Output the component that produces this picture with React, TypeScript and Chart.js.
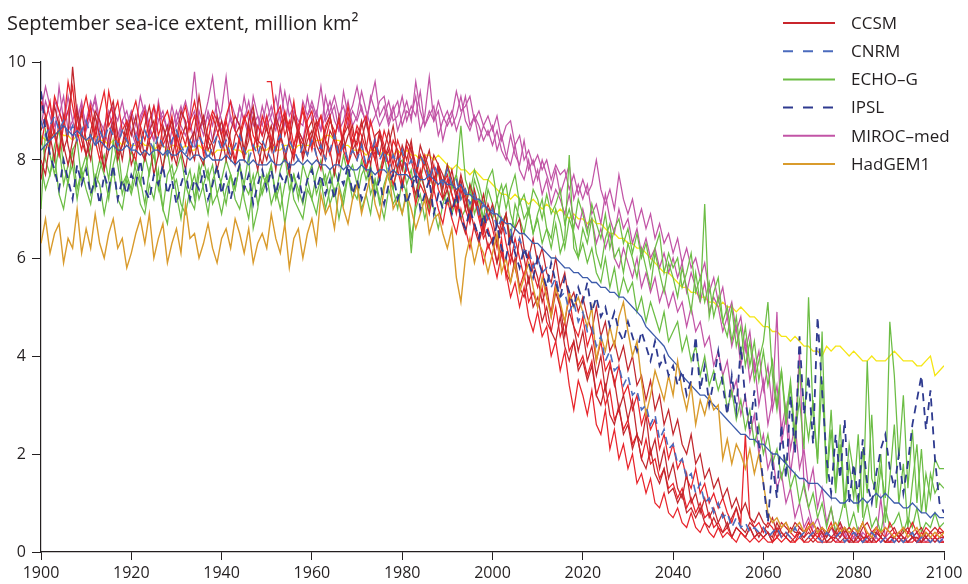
import React, { useEffect, useRef } from "react";
import { Chart, registerables } from "chart.js";

Chart.register(...registerables);

// ---------- DATA ----------
const FIRST_YEAR = 1900;
const LAST_YEAR = 2100;
const X_TICK_STEP = 20;
const Y_TICKS = [0, 2, 4, 6, 8, 10];
const TITLE = "September sea-ice extent, million km²";

// CCSM runs (red)
const ccsm1 = [
  8.6, 8.9, 8.3, 9.1, 8.7, 8.2, 8.5, 9.9, 8.9, 8.4,
  8.1, 8.6, 9.0, 8.8, 8.3, 8.9, 9.2, 8.5, 8.0, 8.6,
  8.9, 8.4, 8.2, 8.7, 9.1, 8.6, 8.3, 7.8, 8.5, 8.8,
  8.4, 9.0, 8.8, 8.1, 8.6, 9.3, 8.7, 8.2, 8.4, 8.9,
  8.5, 8.0, 8.6, 8.9, 8.7, 8.2, 8.8, 9.1, 8.4, 8.3,
  8.7, 8.2, 8.9, 8.6, 8.0, 8.4, 8.9, 8.5, 8.1, 8.6,
  8.8, 8.3, 8.1, 8.6, 8.9, 8.4, 7.9, 8.5, 8.7, 8.2,
  8.4, 8.8, 8.3, 7.9, 8.5, 8.6, 8.0, 8.3, 8.7, 8.1,
  7.8, 8.4, 8.2, 7.7, 8.3, 8.0, 7.6, 8.1, 7.9, 7.4,
  7.9, 7.6, 7.2, 7.7, 7.3, 6.8, 7.4, 7.0, 6.6, 7.1,
  6.8, 6.3, 6.6, 6.9, 6.1, 5.8, 6.4, 6.0, 5.5, 5.9,
  5.6, 5.1, 5.4, 4.8, 5.3, 5.0, 4.4, 4.9, 4.6, 4.1,
  4.5, 3.9, 4.2, 3.6, 4.0, 3.3, 3.8, 3.5, 2.9, 3.2,
  2.7, 3.1, 2.4, 2.2, 2.8, 2.0, 2.3, 1.7, 2.1, 1.5,
  1.8, 1.3, 1.1, 1.6, 1.0, 1.2, 0.8, 1.1, 0.7, 0.9,
  0.6, 0.8, 0.5, 0.7, 0.9, 0.5, 0.4, 0.6, 0.5, 0.3,
  0.5, 0.4, 0.3, 0.6, 0.4, 0.3, 0.5, 0.4, 0.4, 0.3,
  0.4, 0.3, 0.5, 0.4, 0.2, 0.3, 0.4, 0.3, 0.5, 0.3,
  0.2, 0.4, 0.3, 0.3, 0.2, 0.4, 0.3, 0.2, 0.3, 0.3,
  0.4, 0.3, 0.2, 0.3, 0.3, 0.2, 0.4, 0.3, 0.2, 0.3,
  0.3,
];
const ccsm2 = [
  8.3, 8.8, 9.2, 8.5, 8.1, 8.7, 9.0, 9.5, 8.6, 8.2,
  8.7, 9.1, 8.4, 8.0, 8.5, 9.4, 8.9, 8.3, 8.6, 8.8,
  8.2, 8.0, 8.7, 9.0, 8.4, 8.6, 9.1, 8.3, 8.5, 8.9,
  8.1, 8.6, 8.3, 8.8, 9.2, 8.7, 8.1, 8.4, 8.9, 8.6,
  8.3, 8.8, 8.4, 8.0, 8.5, 8.9, 8.6, 8.2, 8.7, 8.5,
  8.9, 8.4, 8.2, 8.7, 9.0, 8.6, 8.1, 8.5, 9.1, 8.7,
  8.3, 8.6, 8.9, 8.4, 8.1, 8.5, 8.8, 8.2, 7.9, 8.4,
  8.6, 8.1, 7.8, 8.3, 8.0, 7.6, 8.2, 7.9, 7.5, 7.8,
  7.4, 7.9, 7.6, 7.1, 7.5, 7.3, 6.9, 7.4, 7.0, 6.7,
  7.2, 6.8, 6.5, 7.0, 6.6, 6.2, 6.7, 6.4, 5.9, 6.3,
  6.0, 5.6, 6.1, 5.7, 5.2, 5.5, 5.0, 5.4, 4.8, 4.5,
  4.9, 4.4, 4.6, 4.0, 4.3, 3.7, 4.1, 3.4, 2.9, 3.5,
  3.2, 2.8, 3.3, 2.6, 2.4, 2.9, 2.1, 2.5, 1.9, 2.2,
  1.7, 2.0, 1.4, 1.6, 1.2, 1.5, 1.0, 0.9, 1.2, 0.8,
  0.7, 0.9, 0.6, 0.5, 0.8, 0.5, 0.4, 0.6, 0.4, 0.3,
  0.5, 0.3, 0.4, 0.3, 0.2, 0.4, 0.3, 0.2, 0.3, 0.2,
  0.3, 0.2, 0.2, 0.3, 0.2, 0.3, 0.2, 0.2, 0.3, 0.2,
  0.2, 0.3, 0.2, 0.2, 0.2, 0.3, 0.2, 0.2, 0.2, 0.3,
  0.2, 0.2, 0.3, 0.2, 0.2, 0.2, 0.3, 0.2, 0.2, 0.2,
  0.3, 0.2, 0.2, 0.2, 0.3, 0.2, 0.2, 0.2, 0.3, 0.2,
  0.2,
];
const ccsm3 = [
  7.6, 8.2, 8.5, 8.0, 8.8, 8.3, 7.9, 8.4, 9.0, 8.6,
  8.1, 8.4, 8.9, 8.5, 7.8, 8.2, 8.7, 8.0, 8.3, 8.8,
  8.5, 8.9, 8.2, 8.0, 8.6, 8.8, 8.1, 8.4, 8.7, 8.2,
  7.9, 8.4, 8.7, 8.3, 8.0, 8.6, 8.9, 8.4, 8.1, 8.5,
  8.8, 8.3, 8.0, 8.5, 8.7, 8.1, 8.4, 8.9, 8.2, 7.9,
  8.4, 8.7, 8.2, 8.5, 8.9, 8.3, 8.0, 8.6, 8.4, 8.1,
  8.5, 8.8, 8.3, 8.0, 8.6, 8.4, 8.9, 8.2, 8.5, 8.7,
  8.1, 8.4, 8.8, 8.3, 8.0, 8.5, 8.2, 8.6, 8.1, 7.8,
  8.3, 8.0, 8.4, 7.7, 8.1, 7.9, 8.2, 7.6, 7.9, 7.7,
  7.4, 7.8, 7.3, 7.6, 7.0, 7.5, 7.2, 6.9, 7.3, 6.8,
  7.1, 6.7, 6.5, 6.9, 6.3, 6.6, 6.8, 6.2, 6.0, 6.4,
  5.9, 6.2, 5.7, 5.5, 6.0, 5.4, 5.7, 5.1, 5.3, 4.9,
  5.2, 4.8, 4.5, 5.0, 4.4, 4.7, 4.1, 4.3, 3.9, 4.2,
  3.7, 4.0, 3.4, 3.6, 3.1, 3.5, 2.9, 3.2, 2.6, 2.9,
  2.4, 2.7, 2.2, 2.0, 2.4, 1.8, 2.0, 1.5, 1.7, 1.3,
  1.5, 1.1, 1.3, 0.9, 1.1, 0.8, 1.0, 0.7, 0.6, 0.8,
  0.6, 0.5, 0.7, 0.4, 0.6, 0.5, 0.4, 0.6, 0.5, 0.4,
  0.5, 0.6, 0.4, 0.5, 0.3, 0.5, 0.4, 0.6, 0.4, 0.5,
  0.4, 0.3, 0.5, 0.6, 0.4, 0.4, 0.3, 0.5, 0.4, 0.5,
  0.3, 0.4, 0.5, 0.3, 0.4, 0.5, 0.3, 0.4, 0.5, 0.4,
  0.4,
];
const ccsm4 = [
  9.2, 8.9, 8.5, 9.3, 9.0, 8.7, 9.6, 9.1, 8.6, 8.9,
  9.3, 8.8, 8.5, 9.0, 9.4, 8.7, 8.9, 9.2, 8.6, 8.4,
  8.9, 9.2, 8.7, 8.4, 8.8, 9.1, 8.5, 8.8, 9.0, 8.6,
  8.3, 8.8, 9.1, 8.6, 8.9, 8.5, 8.2, 8.7, 9.0, 8.8,
  8.5, 8.9, 9.2, 8.6, 8.4, 8.8, 9.0, 8.5, 8.3, 8.9,
  8.6, 8.4, 8.9, 9.1, 8.5, 8.8, 8.3, 8.7, 9.0, 8.6,
  8.2, 8.7, 8.9, 8.4, 8.8, 8.6, 8.1, 8.5, 8.9, 8.3,
  8.7, 8.5, 8.2, 8.8, 8.4, 8.1, 8.6, 8.3, 7.9, 8.4,
  8.1, 7.8, 8.3, 7.9, 7.6, 8.1, 7.8, 7.4, 7.9, 7.5,
  7.7, 7.3, 7.0, 7.5, 7.2, 6.8, 7.3, 6.9, 6.5, 6.9,
  6.6, 6.2, 6.8, 6.3, 5.9, 6.4, 6.0, 5.6, 6.1, 5.7,
  5.4, 5.8, 5.2, 4.9, 5.5, 5.0, 4.7, 5.2, 4.6, 4.4,
  4.8, 4.2, 4.5, 3.9, 4.3, 3.7, 3.9, 3.4, 3.8, 3.2,
  3.4, 2.9, 3.2, 2.6, 2.9, 2.5, 2.7, 2.1, 2.4, 1.9,
  2.2, 1.7, 1.9, 1.5, 1.3, 1.7, 1.2, 1.4, 1.0, 1.2,
  0.9, 1.1, 0.8, 0.6, 0.9, 0.6, 2.4, 0.7, 0.5, 0.6,
  0.4, 0.6, 0.5, 0.3, 0.5, 0.6, 0.4, 0.3, 0.5, 0.4,
  0.6, 0.4, 0.3, 0.5, 0.4, 0.6, 0.3, 0.4, 0.5, 0.3,
  0.5, 0.4, 0.6, 0.3, 0.4, 0.5, 0.4, 0.3, 0.6, 0.4,
  0.3, 0.5, 0.4, 0.6, 0.4, 0.3, 0.5, 0.4, 0.3, 0.5,
  0.4,
];
const ccsm5 = [
  8.0, 7.7, 8.4, 8.6, 8.1, 8.9, 8.3, 7.9, 8.5, 9.0,
  8.4, 8.0, 8.7, 8.2, 7.8, 8.5, 8.8, 8.1, 8.3, 8.6,
  7.9, 8.2, 8.6, 8.0, 8.4, 7.7, 8.1, 8.7, 8.4, 8.0,
  8.5, 8.2, 7.8, 8.4, 8.6, 8.1, 7.9, 8.5, 8.3, 7.8,
  8.2, 8.6, 8.3, 7.9, 8.4, 8.0, 8.7, 8.2, 7.8, 8.3,
  8.0, 8.4, 7.8, 8.5, 8.2, 7.7, 8.3, 8.6, 8.0, 8.4,
  8.6, 8.1, 7.8, 8.4, 8.2, 7.7, 8.3, 8.5, 7.9, 8.2,
  8.0, 8.4, 7.8, 8.1, 8.3, 7.6, 8.0, 8.2, 7.7, 8.1,
  7.5, 7.9, 7.6, 7.3, 7.8, 7.4, 7.1, 7.6, 7.8, 7.2,
  7.4, 7.0, 7.3, 6.8, 6.5, 7.0, 6.6, 6.3, 6.7, 6.2,
  6.4, 5.9, 6.2, 5.7, 5.5, 6.0, 5.4, 5.2, 5.6, 5.0,
  5.2, 4.7, 5.0, 4.5, 4.3, 4.8, 4.2, 3.9, 4.3, 3.7,
  3.9, 3.5, 3.8, 3.2, 3.0, 3.4, 2.8, 2.6, 3.0, 2.4,
  2.6, 2.1, 2.4, 1.9, 1.7, 2.1, 1.6, 1.4, 1.7, 1.2,
  1.3, 1.0, 1.2, 0.8, 0.9, 0.7, 0.9, 0.6, 0.5, 0.7,
  0.5, 0.4, 0.6, 0.3, 0.5, 0.4, 0.3, 0.5, 0.3, 0.4,
  0.3, 0.4, 0.2, 0.3, 0.4, 0.3, 0.2, 0.3, 0.4, 0.2,
  0.3, 0.2, 0.3, 0.4, 0.2, 0.2, 0.3, 0.2, 0.3, 0.2,
  0.2, 0.3, 0.2, 0.2, 0.3, 0.2, 0.3, 0.2, 0.2, 0.3,
  0.2, 0.3, 0.2, 0.3, 0.2, 0.2, 0.3, 0.2, 0.3, 0.2,
  0.2,
];
const CCSM6_START = 1950;
const ccsm6 = [
  9.6, 9.6, 8.8, 8.4, 8.9, 8.6, 9.2, 8.5, 8.3, 8.8,
  9.0, 8.5, 8.2, 8.7, 8.9, 8.4, 8.1, 8.6, 9.1, 8.5,
  8.3, 8.7, 8.9, 8.4, 8.1, 8.6, 8.3, 7.9, 8.4, 8.2,
  7.8, 8.3, 8.0, 7.6, 8.1, 7.8, 7.5, 7.9, 7.4, 7.2,
  7.6, 7.3, 6.9, 7.4, 7.0, 6.7, 7.2, 6.8, 6.4, 6.6,
  6.3, 5.9, 6.4, 5.6, 6.1, 5.8, 5.4, 5.7, 5.1, 5.3,
  5.0, 5.4, 4.7, 4.5, 5.0, 4.4, 4.7, 4.1, 4.3, 3.8,
  4.0, 3.6, 3.9, 3.2, 3.5, 3.0, 3.3, 2.7, 2.9, 2.5,
  2.7, 2.2, 2.4, 1.9, 2.3, 1.8, 1.9, 1.5, 1.7, 1.3,
  1.4, 1.1, 1.3, 0.9, 1.1, 0.8, 1.0, 0.7, 0.8, 0.5,
  0.6, 0.4, 0.5, 0.3, 0.5, 0.4, 0.3, 0.5, 0.3, 0.4,
  0.3, 0.4, 0.2, 0.5, 0.3, 0.4, 0.3, 0.2, 0.4, 0.3,
  0.5, 0.3, 0.4, 0.2, 0.4, 0.3, 0.3, 0.5, 0.3, 0.2,
  0.4, 0.3, 0.2, 0.4, 0.3, 0.5, 0.3, 0.2, 0.3, 0.4,
  0.3, 0.2, 0.4, 0.3, 0.2, 0.4, 0.3, 0.2, 0.3, 0.4,
  0.3,
];

// ECHO-G runs (green)
const echo1 = [
  7.0, 8.6, 8.1, 7.7, 8.3, 7.5, 7.9, 8.2, 7.4, 7.8,
  8.1, 7.3, 7.6, 8.0, 7.7, 7.2, 7.9, 8.3, 7.5, 7.7,
  7.4, 8.0, 7.6, 7.1, 7.8, 8.1, 7.5, 7.0, 7.7, 7.9,
  7.3, 6.8, 7.5, 7.8, 7.2, 7.9, 7.4, 6.9, 7.6, 7.8,
  7.5, 7.1, 7.7, 7.4, 7.9, 7.2, 6.8, 7.5, 7.8, 7.3,
  7.6, 7.9, 7.2, 7.5, 6.7, 7.3, 7.7, 7.4, 7.1, 7.6,
  7.9, 7.3, 7.6, 7.0, 7.4, 7.8, 7.5, 7.1, 7.7, 7.4,
  7.2, 7.7, 7.9, 7.3, 7.6, 7.1, 7.5, 7.8, 7.4, 7.0,
  7.6, 7.3, 6.1, 7.2, 7.7, 7.4, 7.0, 7.6, 7.8, 7.3,
  7.1, 7.5, 7.7, 7.2, 7.4, 6.9, 7.6, 7.3, 6.8, 7.4,
  7.1, 6.7, 7.3, 7.5, 6.9, 6.6, 7.2, 6.8, 7.0, 6.5,
  6.9, 7.2, 6.6, 6.4, 7.0, 6.7, 6.2, 6.8, 6.5, 6.0,
  6.6, 6.3, 6.8, 6.1, 5.8, 6.4, 6.7, 6.0, 6.2, 5.7,
  6.3, 6.0, 5.6, 6.2, 5.8, 5.4, 6.1, 5.7, 5.3, 5.9,
  5.6, 5.2, 5.8, 5.4, 4.9, 5.7, 5.1, 7.1, 4.8, 5.3,
  5.6, 4.7, 4.4, 5.0, 4.2, 4.6, 3.8, 4.3, 3.5, 3.9,
  4.3, 5.1, 3.6, 2.9, 3.7, 2.6, 3.4, 2.1, 3.8, 3.0,
  2.3, 3.1, 1.8, 4.5, 1.4, 2.5, 1.2, 2.2, 0.9, 1.8,
  1.1, 2.4, 0.7, 3.9, 1.5, 1.2, 2.0, 0.6, 1.5, 2.6,
  1.0, 1.8, 0.5, 1.4, 2.2, 0.8, 1.6, 1.1, 1.9, 1.7,
  1.7,
];
const echo2 = [
  8.5, 8.0, 7.7, 8.3, 8.6, 7.9, 7.5, 8.2, 8.4, 7.6,
  7.9, 8.3, 7.4, 7.8, 8.1, 7.6, 8.4, 7.9, 7.3, 7.7,
  8.2, 7.8, 7.5, 8.1, 7.7, 8.3, 7.4, 7.9, 8.2, 7.6,
  7.8, 8.1, 7.5, 7.2, 7.0, 7.7, 8.0, 7.6, 7.9, 7.3,
  7.6, 8.0, 7.7, 7.4, 7.9, 7.5, 8.1, 6.6, 7.0, 7.7,
  7.5, 7.9, 7.3, 7.8, 8.1, 7.4, 7.7, 7.2, 7.9, 7.6,
  7.2, 7.7, 8.0, 7.5, 7.8, 7.3, 7.6, 8.1, 7.7, 7.9,
  7.5, 8.0, 7.6, 7.9, 7.3, 7.8, 8.1, 7.6, 7.4, 7.9,
  8.0, 7.5, 7.8, 7.2, 7.6, 8.0, 7.7, 7.4, 7.8, 7.5,
  7.9, 7.4, 7.7, 8.7, 7.6, 7.3, 7.8, 7.5, 7.1, 7.6,
  7.8, 7.2, 7.5, 7.0, 7.4, 7.7, 7.1, 7.3, 6.9, 7.4,
  7.2, 6.8, 7.3, 6.9, 7.1, 7.4, 6.7, 7.0, 6.6, 7.2,
  6.9, 6.5, 7.1, 6.7, 6.4, 6.9, 6.2, 6.6, 6.8, 6.3,
  6.6, 6.1, 6.5, 6.0, 6.3, 5.8, 6.2, 6.5, 5.7, 6.1,
  5.8, 6.0, 5.4, 5.7, 6.1, 5.3, 5.6, 5.1, 5.5, 4.8,
  5.2, 4.7, 5.0, 4.3, 4.8, 4.0, 4.6, 3.8, 4.3, 3.5,
  4.1, 3.4, 3.9, 3.0, 3.7, 2.8, 3.5, 2.4, 3.1, 2.1,
  5.2, 2.8, 1.9, 3.5, 1.5, 2.9, 1.3, 2.6, 1.0, 2.2,
  1.6, 0.8, 2.1, 1.2, 2.8, 0.9, 1.7, 1.1, 4.7, 3.6,
  1.9, 3.2, 1.3, 2.5, 1.0, 2.1, 0.8, 1.6, 1.2, 1.4,
  1.3,
];
const echo3 = [
  7.9, 7.4, 7.7, 8.1, 7.3, 7.0, 7.6, 7.9, 7.2, 7.8,
  7.4, 7.1, 7.7, 7.5, 6.9, 7.4, 7.8, 7.2, 7.0, 7.6,
  7.3, 7.7, 7.1, 6.9, 7.5, 7.2, 7.8, 7.0, 6.7, 7.4,
  7.6, 7.1, 6.9, 7.4, 7.7, 7.2, 7.5, 7.8, 7.1, 7.3,
  6.9, 7.4, 7.7, 7.2, 7.0, 7.5, 7.3, 7.7, 7.1, 7.4,
  7.7, 7.1, 7.4, 7.0, 7.5, 7.8, 7.2, 7.0, 6.8, 7.4,
  7.2, 6.9, 7.5, 7.7, 7.1, 7.4, 6.8, 7.3, 7.7, 7.2,
  7.5, 7.0, 7.3, 6.9, 7.6, 7.2, 6.8, 7.4, 7.1, 7.3,
  6.9, 7.4, 6.4, 7.0, 7.3, 6.8, 7.2, 7.0, 6.6, 7.1,
  7.4, 6.9, 7.2, 6.8, 7.0, 7.5, 6.9, 7.2, 6.7, 7.0,
  6.8, 7.2, 6.7, 6.9, 6.4, 7.1, 6.8, 6.5, 7.0, 6.5,
  6.8, 6.3, 6.6, 6.2, 6.7, 6.1, 6.4, 8.1, 6.2, 6.0,
  6.3, 5.9, 6.2, 5.7, 5.5, 6.0, 5.4, 5.8, 5.2, 5.6,
  5.3, 5.5, 4.9, 5.2, 4.7, 5.1, 4.8, 4.5, 4.9, 4.3,
  4.5, 4.7, 4.1, 4.4, 3.9, 4.2, 3.6, 4.0, 3.4, 3.7,
  3.3, 3.6, 2.9, 3.3, 2.7, 3.1, 2.5, 2.9, 2.2, 2.6,
  2.0, 2.4, 1.8, 2.1, 1.5, 1.9, 1.3, 1.6, 1.0, 1.4,
  0.9, 1.2, 0.7, 1.0, 0.5, 0.9, 0.4, 0.7, 1.1, 0.5,
  0.8, 0.4, 0.6, 1.0, 0.5, 0.7, 0.4, 0.9, 0.5, 0.6,
  0.8, 0.4, 0.7, 0.5, 0.9, 0.4, 0.6, 0.5, 0.8, 0.5,
  0.6,
];

// MIROC-med runs (magenta)
const miroc1 = [
  9.4, 8.9, 8.6, 9.2, 9.0, 8.7, 9.3, 8.8, 8.5, 9.1,
  8.7, 9.0, 9.2, 8.6, 8.4, 8.9, 9.1, 8.5, 8.8, 9.0,
  8.6, 8.3, 8.9, 9.1, 8.7, 8.4, 8.8, 9.0, 8.6, 8.3,
  8.8, 9.1, 8.7, 8.9, 9.8, 8.8, 8.5, 9.0, 8.7, 9.2,
  8.8, 8.5, 8.9, 8.6, 9.1, 8.8, 8.5, 9.3, 8.9, 8.7,
  9.2, 8.8, 8.6, 9.0, 8.7, 9.3, 8.9, 8.6, 8.4, 8.9,
  9.1, 8.8, 8.6, 9.3, 8.9, 9.1, 8.6, 8.8, 9.2, 8.7,
  8.9, 9.4, 9.0, 8.7, 8.9, 9.2, 9.3, 8.8, 9.1, 8.6,
  8.9, 9.2, 8.8, 9.6, 9.0, 8.7, 8.9, 9.1, 8.5, 8.8,
  9.0, 8.7, 8.9, 9.3, 8.8, 8.6, 8.9, 8.7, 8.4, 8.6,
  8.3, 8.6, 8.2, 8.0, 8.5, 8.1, 7.9, 8.4, 7.8, 8.0,
  7.6, 8.0, 7.7, 7.4, 7.8, 7.3, 7.6, 7.9, 7.2, 7.5,
  7.2, 7.5, 6.9, 7.1, 6.7, 7.3, 6.8, 6.5, 7.0, 6.6,
  6.8, 6.3, 6.6, 6.1, 6.4, 6.0, 6.2, 5.8, 6.1, 5.7,
  6.0, 5.6, 5.9, 5.3, 5.7, 5.4, 5.1, 5.5, 4.9, 5.2,
  5.0, 4.5, 4.8, 4.2, 4.6, 3.8, 4.3, 3.5, 3.9, 3.0,
  3.5, 2.6, 3.1, 4.9, 2.2, 2.8, 1.6, 2.3, 4.1, 1.3,
  0.9, 0.5, 0.7, 0.4, 0.3, 0.5, 0.3, 0.4, 0.3, 0.2,
  0.3, 0.4, 0.2, 0.3, 0.4, 0.3, 1.1, 0.3, 0.2, 0.3,
  0.4, 0.3, 0.2, 0.3, 0.4, 0.2, 0.3, 0.4, 0.3, 0.2,
  0.3,
];
const miroc2 = [
  9.0, 9.5, 9.1, 8.7, 8.9, 9.3, 8.6, 8.8, 9.1, 8.5,
  8.8, 9.2, 8.9, 8.4, 8.7, 9.0, 8.6, 8.3, 8.8, 8.6,
  8.9, 8.5, 8.8, 9.1, 8.6, 8.4, 9.2, 8.7, 8.2, 8.6,
  9.0, 8.7, 8.5, 8.8, 8.3, 9.0, 8.7, 8.9, 8.4, 8.7,
  9.0, 9.7, 8.8, 8.6, 9.1, 8.8, 9.2, 8.7, 8.9, 8.5,
  8.8, 9.1, 8.7, 9.5, 8.9, 8.6, 9.0, 8.8, 8.7, 9.3,
  8.8, 9.0, 8.6, 8.9, 9.2, 8.8, 8.6, 9.4, 8.9, 9.1,
  9.5, 9.0, 8.8, 9.2, 9.6, 8.9, 9.1, 8.7, 9.0, 9.2,
  8.7, 9.0, 8.9, 9.3, 8.6, 8.9, 9.7, 8.8, 9.0, 8.4,
  8.8, 9.0, 8.6, 8.9, 9.3, 8.7, 8.9, 8.4, 8.7, 8.5,
  8.7, 8.2, 8.5, 8.1, 7.9, 8.3, 7.8, 7.6, 8.0, 7.5,
  7.8, 7.3, 7.6, 7.1, 7.4, 7.2, 6.9, 7.3, 6.8, 6.6,
  7.0, 6.6, 6.8, 6.3, 6.6, 6.2, 6.5, 6.0, 5.8, 6.2,
  5.9, 5.6, 6.0, 5.4, 5.7, 5.3, 5.6, 5.1, 5.4, 5.0,
  5.3, 4.9, 5.1, 4.6, 5.0, 4.5, 4.7, 4.2, 4.4, 3.8,
  4.1, 3.6, 3.9, 3.2, 3.5, 2.8, 3.2, 2.4, 2.8, 2.0,
  2.4, 1.7, 2.0, 1.3, 1.6, 1.0, 1.3, 0.7, 1.0, 0.5,
  0.7, 0.4, 0.5, 0.3, 0.4, 0.3, 0.2, 0.3, 0.4, 0.2,
  0.3, 0.2, 0.4, 0.3, 0.2, 0.3, 0.2, 0.3, 0.2, 0.3,
  0.2, 0.3, 0.2, 0.3, 0.2, 0.2, 0.3, 0.2, 0.3, 0.2,
  0.2,
];
const miroc3 = [
  8.7, 9.2, 8.9, 8.5, 9.5, 8.8, 9.0, 8.4, 8.8, 9.2,
  8.6, 8.9, 9.3, 8.8, 8.6, 8.3, 9.0, 8.8, 9.2, 8.7,
  9.0, 8.7, 9.3, 8.9, 8.5, 9.1, 8.8, 8.9, 8.6, 9.1,
  8.7, 8.9, 9.2, 8.8, 9.0, 8.6, 8.8, 9.2, 9.7, 8.9,
  8.6, 8.8, 9.2, 8.9, 8.7, 9.3, 8.8, 9.0, 8.6, 9.1,
  8.7, 8.9, 9.3, 8.8, 9.4, 8.9, 9.1, 8.6, 9.2, 8.9,
  9.2, 8.9, 9.5, 8.8, 9.0, 9.3, 8.9, 9.1, 8.7, 9.0,
  8.8, 9.1, 8.7, 9.3, 9.0, 8.7, 8.9, 9.2, 8.8, 8.9,
  9.3, 8.8, 9.1, 8.9, 9.4, 8.7, 9.0, 8.8, 9.2, 8.9,
  8.7, 8.9, 9.4, 9.0, 9.1, 9.3, 8.8, 9.0, 8.7, 8.9,
  8.6, 8.9, 8.4, 8.7, 8.8, 8.3, 8.5, 8.0, 8.2, 7.9,
  8.1, 7.8, 8.0, 7.6, 7.9, 7.7, 7.8, 7.4, 7.7, 7.3,
  7.6, 7.3, 7.5, 8.0, 7.4, 7.1, 7.4, 7.0, 7.7, 7.2,
  6.9, 7.2, 6.7, 7.0, 6.6, 6.9, 6.4, 6.7, 6.3, 6.5,
  6.1, 6.4, 5.9, 6.2, 5.8, 6.0, 5.6, 5.9, 5.3, 5.6,
  5.1, 5.4, 4.8, 5.1, 4.5, 4.8, 4.1, 4.5, 3.7, 4.1,
  3.3, 3.8, 2.9, 3.4, 2.5, 3.0, 2.1, 2.6, 1.7, 2.1,
  1.3, 1.7, 0.9, 1.3, 0.6, 0.9, 0.4, 0.6, 0.3, 0.4,
  0.3, 0.5, 0.3, 0.2, 0.4, 0.3, 0.2, 0.3, 0.4, 0.2,
  0.3, 0.2, 0.3, 0.4, 0.2, 0.3, 0.2, 0.3, 0.2, 0.3,
  0.2,
];

// HadGEM1 (orange)
const hadgem1 = [
  6.3, 6.8, 6.1, 6.5, 6.7, 5.9, 6.4, 6.2, 7.0, 6.1,
  6.6, 6.2, 6.9, 6.3, 6.0, 6.5, 6.8, 6.2, 6.4, 5.8,
  6.1, 6.5, 6.8, 6.3, 6.9, 6.0, 6.4, 6.7, 5.9, 6.3,
  6.6, 6.1, 7.1, 6.4, 6.5, 6.0, 6.3, 6.7, 6.2, 5.9,
  6.4, 6.6, 6.2, 6.8, 6.5, 6.1, 6.6, 5.9, 6.3, 6.5,
  6.2, 6.9, 6.4, 6.1, 6.7, 5.8, 6.4, 6.6, 6.0, 6.5,
  6.8, 6.3, 7.3, 6.9, 7.1, 6.6, 7.4, 7.0, 6.7, 7.2,
  7.5, 6.9, 7.3, 7.7, 7.1, 6.8, 7.4, 7.8, 7.0, 7.2,
  6.9, 7.3, 7.0, 6.6, 6.9, 7.2, 6.5, 6.8, 6.9, 6.5,
  6.2, 6.6, 5.6, 5.1, 6.0, 6.4, 5.9, 6.3, 6.1, 5.7,
  6.1, 6.5, 5.7, 6.0, 5.5, 5.9, 5.3, 5.6, 5.9, 5.4,
  5.0, 5.6, 5.2, 4.8, 5.4, 5.1, 4.7, 5.3, 5.0, 5.2,
  4.9, 4.6, 5.0, 3.9, 4.4, 4.1, 4.6, 4.2, 4.8, 5.1,
  4.5, 4.0, 4.3, 3.5, 2.8, 3.2, 3.7, 3.4, 3.1, 3.6,
  3.2, 3.9, 3.3, 2.9, 3.4, 2.6, 3.1, 2.8, 3.2, 2.9,
  3.0, 1.9, 2.3, 1.8, 2.2, 2.0, 1.7, 2.1, 1.6, 2.0,
  1.4, 0.8, 0.6, 0.7, 0.5, 0.6, 0.4, 0.5, 0.6, 0.4,
  0.5, 0.6, 0.4, 0.5, 0.4, 0.5, 0.6, 0.4, 0.5, 0.4,
  0.5, 0.4, 0.6, 0.4, 0.3, 0.5, 0.4, 0.5, 0.4, 0.3,
  0.4, 0.5, 0.3, 0.4, 0.5, 0.3, 0.4, 0.3, 0.4, 0.3,
  0.4,
];

// IPSL (navy dashed)
const ipsl = [
  9.4, 8.6, 8.1, 7.8, 7.4, 8.0, 7.6, 7.2, 7.9, 7.5,
  7.8, 7.3, 7.6, 7.1, 7.7, 7.4, 7.9, 7.2, 7.6, 7.3,
  7.7, 7.5, 8.0, 7.4, 7.2, 7.7, 7.5, 7.9, 7.3, 7.6,
  7.1, 7.5, 7.8, 7.2, 7.6, 7.4, 7.8, 7.2, 7.5, 7.9,
  7.3, 7.7, 7.2, 7.6, 7.9, 7.4, 7.7, 7.1, 7.5, 7.8,
  7.4, 7.8, 7.3, 7.7, 7.5, 7.9, 7.4, 7.7, 7.2, 7.6,
  7.8, 7.4, 7.7, 7.3, 7.6, 7.2, 7.7, 7.5, 7.9, 7.3,
  7.6, 7.2, 7.5, 7.8, 7.3, 7.6, 7.1, 7.5, 7.7, 7.2,
  7.5, 7.1, 7.4, 7.7, 7.0, 7.3, 7.6, 6.9, 7.3, 7.0,
  7.2, 6.9, 7.3, 6.8, 6.6, 7.0, 6.7, 6.4, 6.9, 6.5,
  6.3, 6.7, 6.2, 6.0, 6.5, 6.1, 5.8, 6.2, 5.9, 5.6,
  6.0, 5.7, 5.4, 5.9, 5.5, 5.2, 5.6, 5.3, 5.0, 5.4,
  5.1, 5.5, 4.9, 5.2, 4.8, 5.0, 4.6, 4.9, 4.5, 4.3,
  4.7, 4.4, 4.1, 4.5, 4.2, 3.9, 4.3, 3.8, 4.0, 3.6,
  3.8, 3.4, 3.7, 3.2, 3.5, 4.4, 3.3, 3.8, 3.0, 3.5,
  4.1, 3.4, 2.8, 3.6, 2.9, 4.2, 3.1, 2.5, 3.3, 2.2,
  1.4, 0.6, 1.8, 1.1, 2.6, 1.5, 3.2, 2.0, 4.4, 2.8,
  3.6, 2.2, 4.8, 3.3, 1.9, 1.2, 2.4, 1.5, 2.7, 1.0,
  1.8, 1.1, 2.3, 1.4, 1.0, 1.6, 2.1, 2.4, 1.7, 1.3,
  2.0, 1.2, 1.8, 2.6, 3.1, 3.6, 2.5, 3.3, 1.9, 1.0,
  0.8,
];

// CNRM (blue dashed)
const cnrm = [
  8.8, 8.5, 8.7, 8.9, 8.6, 8.8, 8.5, 8.7, 8.4, 8.6,
  8.8, 8.5, 8.3, 8.6, 8.4, 8.7, 8.5, 8.3, 8.6, 8.4,
  8.2, 8.5, 8.3, 8.6, 8.4, 8.2, 8.5, 8.3, 8.1, 8.4,
  8.6, 8.3, 8.1, 8.4, 8.2, 8.5, 8.3, 8.0, 8.3, 8.5,
  8.2, 8.4, 8.1, 8.3, 8.5, 8.2, 8.0, 8.3, 8.1, 8.4,
  8.2, 8.0, 8.3, 8.5, 8.1, 8.4, 8.2, 8.0, 8.3, 8.1,
  8.4, 8.1, 8.3, 8.0, 8.2, 8.5, 8.1, 8.3, 8.0, 8.2,
  8.0, 8.3, 7.9, 8.1, 8.4, 8.0, 8.2, 7.8, 8.1, 7.9,
  8.2, 7.8, 8.0, 7.7, 8.1, 7.9, 7.6, 7.9, 7.7, 7.5,
  7.8, 7.5, 7.6, 7.2, 7.4, 7.1, 7.3, 6.9, 7.1, 6.8,
  7.0, 6.6, 6.8, 6.5, 6.6, 6.2, 6.4, 6.1, 6.2, 5.8,
  6.0, 5.7, 5.8, 5.4, 5.6, 5.2, 5.3, 4.9, 5.1, 4.7,
  4.9, 4.5, 4.6, 4.2, 4.4, 3.9, 4.1, 3.7, 3.8, 3.4,
  3.6, 3.2, 3.3, 2.9, 3.0, 2.6, 2.8, 2.3, 2.5, 2.1,
  2.2, 1.8, 1.9, 1.5, 1.6, 1.2, 1.4, 1.0, 1.1, 0.8,
  1.0, 0.7, 0.8, 0.5, 0.7, 0.5, 0.6, 0.4, 0.5, 0.4,
  0.5, 0.3, 0.4, 0.5, 0.3, 0.4, 0.3, 0.5, 0.3, 0.4,
  0.3, 0.4, 0.3, 0.2, 0.4, 0.3, 0.3, 0.4, 0.2, 0.3,
  0.4, 0.3, 0.2, 0.3, 0.4, 0.3, 0.2, 0.3, 0.3, 0.2,
  0.3, 0.2, 0.3, 0.4, 0.2, 0.3, 0.3, 0.2, 0.3, 0.2,
  0.3,
];

// Unlabelled smooth curves (yellow and blue)
const yellowCurve = [
  8.5, 8.4, 8.5, 8.5, 8.6, 8.5, 8.5, 8.4, 8.5, 8.5,
  8.4, 8.4, 8.5, 8.4, 8.4, 8.3, 8.4, 8.4, 8.3, 8.4,
  8.3, 8.3, 8.4, 8.3, 8.3, 8.2, 8.3, 8.3, 8.2, 8.3,
  8.3, 8.2, 8.3, 8.2, 8.2, 8.3, 8.2, 8.2, 8.1, 8.2,
  8.2, 8.2, 8.3, 8.2, 8.2, 8.1, 8.2, 8.2, 8.3, 8.2,
  8.2, 8.3, 8.2, 8.2, 8.3, 8.3, 8.2, 8.3, 8.3, 8.3,
  8.3, 8.4, 8.4, 8.5, 8.5, 8.4, 8.4, 8.3, 8.3, 8.2,
  8.2, 8.2, 8.1, 8.2, 8.2, 8.1, 8.2, 8.1, 8.1, 8.2,
  8.1, 8.2, 8.1, 8.1, 8.0, 8.1, 8.1, 8.0, 8.1, 8.0,
  7.9, 7.8, 7.9, 7.8, 7.8, 7.7, 7.8, 7.7, 7.6, 7.6,
  7.5, 7.4, 7.3, 7.3, 7.2, 7.3, 7.2, 7.2, 7.1, 7.2,
  7.1, 7.0, 7.1, 7.0, 6.9, 7.0, 6.9, 6.8, 6.9, 6.8,
  6.8, 6.7, 6.8, 6.7, 6.7, 6.6, 6.5, 6.5, 6.4, 6.4,
  6.3, 6.3, 6.2, 6.2, 6.1, 6.0, 5.9, 5.8, 5.7, 5.7,
  5.6, 5.5, 5.4, 5.4, 5.3, 5.3, 5.2, 5.2, 5.1, 5.1,
  5.0, 5.1, 5.0, 5.0, 4.9, 5.0, 4.9, 4.8, 4.8, 4.7,
  4.6, 4.6, 4.5, 4.5, 4.4, 4.4, 4.3, 4.4, 4.3, 4.2,
  4.2, 4.1, 4.1, 4.0, 4.2, 4.1, 4.2, 4.2, 4.1, 4.0,
  4.1, 4.0, 3.9, 3.9, 4.0, 3.9, 3.9, 3.9, 4.0, 4.1,
  4.0, 3.9, 3.9, 3.9, 3.8, 3.8, 3.9, 4.0, 3.6, 3.7,
  3.8,
];
const blueCurve = [
  8.2, 8.3, 8.4, 8.5, 8.6, 8.7, 8.6, 8.5, 8.6, 8.5,
  8.4, 8.5, 8.3, 8.4, 8.3, 8.2, 8.3, 8.2, 8.2, 8.3,
  8.2, 8.2, 8.1, 8.2, 8.1, 8.2, 8.2, 8.1, 8.2, 8.1,
  8.1, 8.2, 8.1, 8.0, 8.1, 8.1, 8.0, 8.1, 8.0, 8.0,
  8.0, 8.1, 8.0, 7.9, 8.0, 8.0, 7.9, 8.0, 7.9, 7.9,
  7.9, 8.0, 7.9, 7.9, 8.0, 7.9, 7.9, 8.0, 7.9, 8.0,
  7.9, 8.0, 7.9, 7.9, 7.8, 7.9, 7.9, 7.8, 7.9, 7.8,
  7.8, 7.9, 7.8, 7.8, 7.7, 7.8, 7.8, 7.7, 7.8, 7.7,
  7.7, 7.7, 7.6, 7.7, 7.6, 7.6, 7.7, 7.6, 7.5, 7.6,
  7.5, 7.5, 7.4, 7.5, 7.3, 7.3, 7.2, 7.2, 7.1, 7.0,
  6.9, 6.9, 6.8, 6.7, 6.7, 6.6, 6.5, 6.5, 6.4, 6.3,
  6.3, 6.2, 6.1, 6.0, 6.0, 5.9, 5.8, 5.8, 5.7, 5.7,
  5.6, 5.6, 5.5, 5.5, 5.4, 5.4, 5.3, 5.3, 5.2, 5.2,
  5.1, 5.0, 4.9, 4.8, 4.6, 4.5, 4.4, 4.3, 4.2, 4.0,
  3.9, 3.8, 3.6, 3.5, 3.4, 3.3, 3.2, 3.2, 3.1, 3.0,
  2.9, 2.8, 2.7, 2.6, 2.5, 2.4, 2.4, 2.3, 2.3, 2.2,
  2.2, 2.1, 2.0, 2.0, 1.9, 1.8, 1.7, 1.6, 1.5, 1.5,
  1.4, 1.4, 1.4, 1.3, 1.2, 1.1, 1.1, 1.0, 1.0, 1.1,
  1.0, 1.0, 1.1, 1.0, 1.1, 1.2, 1.1, 1.2, 1.1, 1.0,
  1.0, 0.9, 0.9, 1.0, 0.9, 0.8, 0.8, 0.7, 0.8, 0.7,
  0.7,
];

// Legend
const LEGEND_LABELS = ["CCSM", "CNRM", "ECHO–G", "IPSL", "MIROC–med", "HadGEM1"];
const LEGEND_COLORS = ["#c9252c", "#4b6bbd", "#6cbd45", "#2e3a8f", "#c254a6", "#d99b2c"];
const LEGEND_DASHED = [false, true, false, true, false, false];

// ---------- STYLE ----------
const TEXT = "#231f20";
const RED_DARK = "#c1272d";
const RED_BRIGHT = "#e8242b";
const GREEN = "#6cbd45";
const MAGENTA = "#c254a6";
const ORANGE = "#d99b2c";
const NAVY = "#2e3a8f";
const BLUE = "#4b6bbd";
const BLUE_SOLID = "#3d5cab";
const YELLOW = "#f5e614";
const FONT = '"Open Sans", "Noto Sans", "DejaVu Sans", sans-serif';

function toPoints(values: number[], start: number) {
  return values.map((v, i) => ({ x: start + i, y: v }));
}

function line(label: string, values: number[], color: string, opts: any = {}) {
  return {
    label,
    data: toPoints(values, opts.start ?? FIRST_YEAR),
    borderColor: color,
    backgroundColor: color,
    borderWidth: opts.width ?? 1.25,
    borderDash: opts.dash ?? [],
    pointRadius: 0,
    fill: false,
    tension: 0,
  };
}

const overlayPlugin = {
  id: "overlay",
  afterDraw(chart: any) {
    const ctx = chart.ctx;
    ctx.save();
    ctx.fillStyle = TEXT;
    ctx.font = `20px ${FONT}`;
    ctx.textBaseline = "alphabetic";
    ctx.textAlign = "left";
    ctx.fillText(TITLE, 7, 30);

    LEGEND_LABELS.forEach((lab, i) => {
      const y = 23 + i * 28.2;
      ctx.strokeStyle = LEGEND_COLORS[i];
      ctx.lineWidth = 2;
      ctx.setLineDash(LEGEND_DASHED[i] ? [10, 10] : []);
      ctx.beginPath();
      ctx.moveTo(783, y);
      ctx.lineTo(835, y);
      ctx.stroke();
      ctx.setLineDash([]);
      ctx.fillStyle = TEXT;
      ctx.font = `17px ${FONT}`;
      ctx.textBaseline = "middle";
      ctx.fillText(lab, 851, y + 1);
    });
    ctx.restore();
  },
};

export default function App() {
  const ref = useRef<HTMLCanvasElement | null>(null);

  useEffect(() => {
    if (!ref.current) return;
    const DASH = [8, 6];
    const datasets = [
      line("IPSL", ipsl, NAVY, { dash: DASH, width: 1.8 }),
      line("CNRM", cnrm, BLUE, { dash: DASH, width: 1.6 }),
      line("HadGEM1", hadgem1, ORANGE, { width: 1.4 }),
      line("blue", blueCurve, BLUE_SOLID, { width: 1.3 }),
      line("CCSM 1", ccsm1, RED_DARK),
      line("CCSM 2", ccsm2, RED_BRIGHT),
      line("CCSM 3", ccsm3, RED_DARK),
      line("CCSM 4", ccsm4, RED_BRIGHT),
      line("CCSM 5", ccsm5, RED_DARK),
      line("CCSM 6", ccsm6, RED_BRIGHT, { start: CCSM6_START }),
      line("ECHO-G 1", echo1, GREEN),
      line("ECHO-G 2", echo2, GREEN),
      line("ECHO-G 3", echo3, GREEN),
      line("MIROC 1", miroc1, MAGENTA),
      line("MIROC 2", miroc2, MAGENTA),
      line("MIROC 3", miroc3, MAGENTA),
      line("yellow", yellowCurve, YELLOW, { width: 1.3 }),
    ];

    const axisGrid = (len: number) => ({
      display: true,
      drawOnChartArea: false,
      drawTicks: true,
      tickLength: len,
      color: TEXT,
      lineWidth: 1,
    });

    const chart = new Chart(ref.current, {
      type: "line",
      data: { datasets },
      options: {
        responsive: false,
        animation: false,
        events: [],
        layout: { padding: { top: 62, right: 24, left: 0, bottom: 0 } },
        plugins: {
          legend: { display: false },
          tooltip: { enabled: false },
          title: { display: false },
        },
        scales: {
          x: {
            type: "linear",
            min: FIRST_YEAR,
            max: LAST_YEAR,
            grid: axisGrid(8),
            border: { display: true, color: TEXT, width: 1.2 },
            ticks: {
              stepSize: X_TICK_STEP,
              autoSkip: false,
              maxRotation: 0,
              padding: 4,
              color: TEXT,
              font: { family: FONT, size: 16 },
              callback: (v: any) => String(v),
            },
            afterFit: (s: any) => {
              s.height = 32;
            },
          },
          y: {
            type: "linear",
            min: Y_TICKS[0],
            max: Y_TICKS[Y_TICKS.length - 1],
            grid: axisGrid(9),
            border: { display: true, color: TEXT, width: 1.2 },
            afterBuildTicks: (s: any) => {
              s.ticks = Y_TICKS.map((v) => ({ value: v }));
            },
            ticks: {
              padding: 6,
              color: TEXT,
              font: { family: FONT, size: 16 },
              callback: (v: any) => String(v),
            },
            afterFit: (s: any) => {
              s.width = 41;
            },
          },
        },
      },
      plugins: [overlayPlugin],
    });
    return () => chart.destroy();
  }, []);

  return (
    <div style={{ position: "fixed", left: 0, top: 0, width: 968, height: 584, background: "#fff" }}>
      <canvas ref={ref} width={968} height={584} style={{ display: "block" }} />
    </div>
  );
}
